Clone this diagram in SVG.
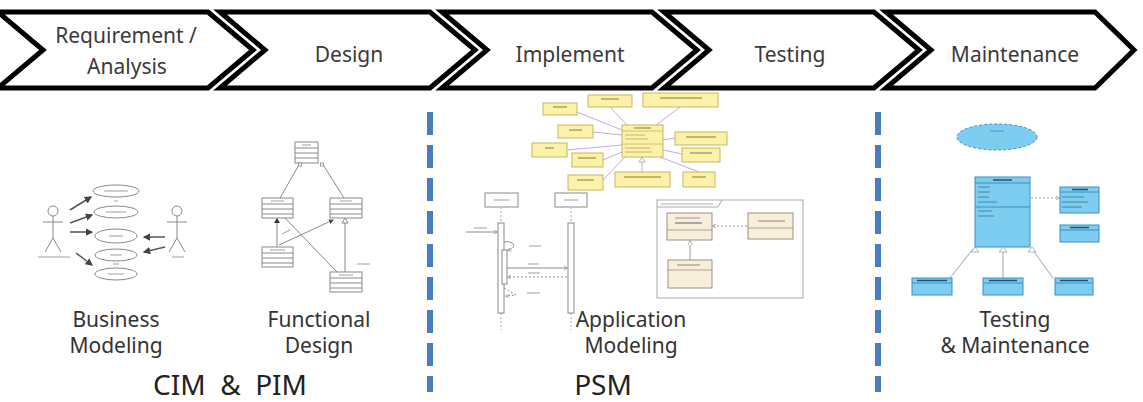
<svg xmlns="http://www.w3.org/2000/svg" width="1143" height="402" viewBox="0 0 1143 402">
<style>
.chev{fill:#fff;stroke:#000;stroke-width:5;stroke-linejoin:miter}
.ct{font-family:"Noto Sans","Open Sans",sans-serif;font-size:21px;fill:#3a3a3a;text-anchor:middle}
.lb{font-family:"Noto Sans","Open Sans",sans-serif;font-size:21px;fill:#333;text-anchor:middle}
.big{font-family:"Noto Sans","Open Sans",sans-serif;font-size:28px;fill:#222;text-anchor:middle}
.sep{stroke:#4a7dbf;stroke-width:6;stroke-dasharray:23 10}
.g{fill:none;stroke:#8a8a8a;stroke-width:1}
.gb{fill:#fff;stroke:#8a8a8a;stroke-width:1}
.dk{fill:none;stroke:#555;stroke-width:1.5}
.tx{stroke:#b0b0b0;stroke-width:1.2}
.yb{fill:#fbf1a8;stroke:#c9b75a;stroke-width:1}
.pl{fill:none;stroke:#c9a8e2;stroke-width:1}
.cb{fill:#f7efd9;stroke:#9a9280;stroke-width:1}
.bb{fill:#7dcdf1;stroke:#3d8fc2;stroke-width:1}
.bl{fill:none;stroke:#9aa4ad;stroke-width:1}
</style>
<defs>
<marker id="ah" viewBox="0 0 6 6" refX="5" refY="3" markerWidth="5" markerHeight="5" orient="auto"><path d="M0,0 L6,3 L0,6 Z" fill="#444"/></marker>
<marker id="ahs" viewBox="0 0 6 6" refX="5" refY="3" markerWidth="4" markerHeight="4" orient="auto"><path d="M0,0 L6,3 L0,6" fill="none" stroke="#888"/></marker>
<marker id="tri" viewBox="0 0 8 8" refX="7" refY="4" markerWidth="5" markerHeight="5" orient="auto"><path d="M0,0 L8,4 L0,8 Z" fill="#fff" stroke="#888"/></marker>
</defs>
<rect width="1143" height="402" fill="#fff"/>

<g id="chevrons">
<g id="chev-requirement"><path class="chev" d="M-2,12 H208 L253,50 L208,88 H-2 L43,50 Z"/><text class="ct" x="126" y="43">Requirement /</text><text class="ct" x="127" y="74">Analysis</text></g>
<g id="chev-design"><path class="chev" d="M220,12 H430 L475,50 L430,88 H220 L265,50 Z"/><text class="ct" x="349" y="62">Design</text></g>
<g id="chev-implement"><path class="chev" d="M442,12 H652 L697,50 L652,88 H442 L487,50 Z"/><text class="ct" x="570" y="62">Implement</text></g>
<g id="chev-testing"><path class="chev" d="M664,12 H874 L919,50 L874,88 H664 L709,50 Z"/><text class="ct" x="790" y="62">Testing</text></g>
<g id="chev-maintenance"><path class="chev" d="M886,12 H1095 L1134,50 L1095,88 H886 L931,50 Z"/><text class="ct" x="1015" y="62">Maintenance</text></g>
</g>

<g id="separators">
<line class="sep" x1="430" y1="112" x2="430" y2="392"/>
<line class="sep" x1="878" y1="112" x2="878" y2="392"/>
</g>

<g id="business-modeling">
<ellipse class="gb" cx="116" cy="191" rx="23" ry="6"/>
<ellipse class="gb" cx="116" cy="212" rx="22" ry="6"/>
<ellipse class="gb" cx="116" cy="236" rx="21" ry="7"/>
<ellipse class="gb" cx="116" cy="255" rx="21" ry="6"/>
<ellipse class="gb" cx="116" cy="274" rx="21" ry="6"/>
<line class="tx" x1="104" y1="191" x2="128" y2="191"/>
<line class="tx" x1="106" y1="212" x2="126" y2="212"/>
<line class="tx" x1="109" y1="236" x2="123" y2="236"/>
<line class="tx" x1="110" y1="255" x2="122" y2="255"/>
<line class="tx" x1="108" y1="274" x2="124" y2="274"/>
<line class="tx" x1="114" y1="201" x2="118" y2="201"/>
<line class="tx" x1="113" y1="264" x2="119" y2="264"/>
<circle class="gb" cx="53" cy="211" r="5"/>
<path class="g" d="M53,216 V238 M43,222 H63 M53,238 L45,252 M53,238 L61,252"/>
<line class="tx" x1="38" y1="257" x2="70" y2="257"/>
<circle class="gb" cx="177" cy="211" r="5"/>
<path class="g" d="M177,216 V238 M167,222 H187 M177,238 L169,252 M177,238 L185,252"/>
<line class="tx" x1="172" y1="257" x2="184" y2="257"/>
<line class="dk" x1="70" y1="210" x2="91" y2="197" marker-end="url(#ah)"/>
<line class="dk" x1="70" y1="223" x2="92" y2="215" marker-end="url(#ah)"/>
<line class="dk" x1="70" y1="232" x2="92" y2="232" marker-end="url(#ah)"/>
<line class="dk" x1="76" y1="253" x2="92" y2="265" marker-end="url(#ah)"/>
<line class="dk" x1="165" y1="237" x2="144" y2="237" marker-end="url(#ah)"/>
<line class="dk" x1="165" y1="247" x2="144" y2="252" marker-end="url(#ah)"/>
<text class="lb" x="116" y="327">Business</text>
<text class="lb" x="116" y="353">Modeling</text>
</g>

<g id="functional-design">
<rect class="gb" x="295" y="142" width="23" height="21"/>
<path class="g" d="M295,148 H318 M295,153 H318 M295,158 H318"/>
<rect class="gb" x="262" y="198" width="31" height="20"/>
<path class="g" d="M262,204 H293 M262,209 H293 M262,214 H293"/>
<rect class="gb" x="330" y="198" width="32" height="20"/>
<path class="g" d="M330,204 H362 M330,209 H362 M330,214 H362"/>
<rect class="gb" x="262" y="247" width="31" height="20"/>
<path class="g" d="M262,253 H293 M262,258 H293 M262,263 H293"/>
<rect class="gb" x="330" y="272" width="32" height="20"/>
<path class="g" d="M330,278 H362 M330,283 H362 M330,288 H362"/>
<path class="g" d="M300,163 L280,198 M322,163 L344,198 M277,247 V222 M285,218 L337,272 M345,272 V222"/>
<path d="M277,218 L274,223 L280,223 Z" fill="#333"/>
<path d="M345,218 L342,223 L348,223 Z" fill="#fff" stroke="#888"/>
<line class="g" x1="279" y1="245" x2="333" y2="220" marker-end="url(#ah)"/>
<rect x="298.5" y="163" width="3" height="3" fill="#fff" stroke="#888" stroke-width="0.8"/>
<rect x="320.5" y="163" width="3" height="3" fill="#fff" stroke="#888" stroke-width="0.8"/>
<line class="tx" x1="271" y1="201" x2="284" y2="201"/>
<line class="tx" x1="340" y1="201" x2="352" y2="201"/>
<line class="tx" x1="270" y1="250" x2="285" y2="250"/>
<line class="tx" x1="339" y1="275" x2="353" y2="275"/>
<line class="tx" x1="302" y1="145" x2="311" y2="145"/>
<line class="tx" x1="357" y1="264" x2="370" y2="264"/>
<line class="tx" x1="282" y1="234" x2="290" y2="230"/>
<text class="lb" x="319" y="327">Functional</text>
<text class="lb" x="319" y="353">Design</text>
</g>

<g id="application-modeling">
<g id="app-class-diagram">
<path class="pl" d="M610,107 L628,126 M680,107 L655,126 M577,112 L622,130 M593,132 L622,135 M675,138 L663,140 M567,150 L622,145 M682,154 L663,150 M603,160 L622,152 M642,172 L642,157 M603,180 L625,157 M699,172 L660,157"/>
<rect class="yb" x="588" y="95" width="44" height="12"/>
<rect class="yb" x="643" y="93" width="75" height="14"/>
<rect class="yb" x="543" y="103" width="34" height="12"/>
<rect class="yb" x="622" y="125" width="41" height="32"/>
<path d="M622,131 H663 M622,144 H663" stroke="#c9b75a" stroke-width="0.8"/>
<rect class="yb" x="558" y="125" width="35" height="13"/>
<rect class="yb" x="675" y="132" width="52" height="13"/>
<rect class="yb" x="532" y="143" width="35" height="14"/>
<rect class="yb" x="682" y="148" width="38" height="14"/>
<rect class="yb" x="572" y="153" width="31" height="14"/>
<rect class="yb" x="615" y="172" width="55" height="15"/>
<rect class="yb" x="568" y="175" width="35" height="15"/>
<rect class="yb" x="683" y="172" width="32" height="15"/>
<path d="M642,157 L639,162 L645,162 Z" fill="#fff" stroke="#999" stroke-width="0.7"/>
<g stroke="#8a7a30" stroke-width="1">
<line x1="601" y1="99" x2="619" y2="99"/><line x1="660" y1="98" x2="702" y2="98"/><line x1="553" y1="107" x2="567" y2="107"/>
<line x1="634" y1="128" x2="651" y2="128"/><line x1="569" y1="130" x2="582" y2="130"/><line x1="686" y1="137" x2="716" y2="137"/>
<line x1="545" y1="148" x2="554" y2="148"/><line x1="690" y1="153" x2="712" y2="153"/><line x1="578" y1="158" x2="596" y2="158"/>
<line x1="624" y1="177" x2="661" y2="177"/><line x1="577" y1="180" x2="594" y2="180"/><line x1="692" y1="177" x2="706" y2="177"/>
</g>
<g stroke="#b8a860" stroke-width="0.8"><line x1="625" y1="135" x2="645" y2="135"/><line x1="625" y1="139" x2="648" y2="139"/><line x1="625" y1="148" x2="650" y2="148"/><line x1="625" y1="152" x2="652" y2="152"/></g>
</g>
<g id="app-sequence">
<rect class="gb" x="485" y="193" width="33" height="14"/>
<rect class="gb" x="555" y="193" width="32" height="14"/>
<line class="tx" x1="494" y1="200" x2="509" y2="200"/>
<line class="tx" x1="564" y1="200" x2="578" y2="200"/>
<path d="M501,207 V223 M501,313 V330 M571,207 V223 M571,313 V330" stroke="#aaa" stroke-width="1" stroke-dasharray="2 2"/>
<rect class="gb" x="498" y="223" width="6" height="90"/>
<rect class="gb" x="502" y="250" width="5" height="34"/>
<rect class="gb" x="568" y="223" width="6" height="90"/>
<line class="g" x1="466" y1="232" x2="497" y2="232" marker-end="url(#ahs)"/>
<line class="tx" x1="474" y1="228" x2="487" y2="228"/>
<path class="g" d="M504,242 C516,240 516,249 508,250" marker-end="url(#ahs)"/>
<line class="tx" x1="529" y1="246" x2="541" y2="246"/>
<line class="g" x1="507" y1="268" x2="567" y2="268" marker-end="url(#ahs)"/>
<line class="tx" x1="528" y1="264" x2="539" y2="264"/>
<line class="g" x1="567" y1="277" x2="508" y2="277" stroke-dasharray="2 2" marker-end="url(#ahs)"/>
<line class="tx" x1="528" y1="273" x2="540" y2="273"/>
<path class="g" d="M504,288 L516,295 L506,296" stroke-dasharray="2 2" marker-end="url(#ahs)"/>
<line class="tx" x1="527" y1="293" x2="540" y2="293"/>
</g>
<g id="app-component">
<rect x="657" y="200" width="146" height="98" fill="#fff" stroke="#aaa" stroke-width="1"/>
<path d="M657,207 H718 L722,200" fill="none" stroke="#aaa" stroke-width="1"/>
<line class="tx" x1="661" y1="204" x2="713" y2="204"/>
<rect class="cb" x="667" y="213" width="45" height="27"/>
<line x1="667" y1="230" x2="712" y2="230" stroke="#9a9280" stroke-width="0.8"/>
<line x1="675" y1="218" x2="700" y2="218" stroke="#999" stroke-width="1"/>
<line x1="675" y1="223" x2="702" y2="223" stroke="#777" stroke-width="1.2"/>
<rect class="cb" x="668" y="260" width="44" height="28"/>
<line x1="668" y1="270" x2="712" y2="270" stroke="#9a9280" stroke-width="0.8"/>
<line x1="677" y1="265" x2="700" y2="265" stroke="#888" stroke-width="1"/>
<rect class="cb" x="748" y="213" width="45" height="26"/>
<line x1="748" y1="228" x2="793" y2="228" stroke="#9a9280" stroke-width="0.8"/>
<line x1="758" y1="221" x2="785" y2="221" stroke="#888" stroke-width="1"/>
<line x1="747" y1="226" x2="713" y2="226" stroke="#999" stroke-width="1" stroke-dasharray="2 2" marker-end="url(#ahs)"/>
<line x1="690" y1="260" x2="690" y2="241" stroke="#999" stroke-width="1" marker-end="url(#tri)"/>
</g>
<text class="lb" x="631" y="327">Application</text>
<text class="lb" x="631" y="353">Modeling</text>
</g>

<g id="testing-maintenance">
<ellipse cx="997" cy="137" rx="40" ry="13" fill="#7dcdf1" stroke="#3d8fc2" stroke-width="1" stroke-dasharray="3 2"/>
<line x1="990" y1="131" x2="1004" y2="131" stroke="#5a7e9a" stroke-width="0.8"/>
<path class="bl" d="M950,278 L973,249 M1003,278 V250 M1053,278 L1032,249"/>
<rect class="bb" x="975" y="177" width="55" height="70"/>
<path d="M975,183 H1030 M975,207 H1030" stroke="#3d8fc2" stroke-width="1"/>
<line x1="993" y1="180" x2="1012" y2="180" stroke="#1d4f70" stroke-width="1.5"/>
<g stroke="#3f6f90" stroke-width="0.8"><line x1="978" y1="187" x2="990" y2="187"/><line x1="978" y1="192" x2="990" y2="192"/><line x1="978" y1="197" x2="989" y2="197"/><line x1="978" y1="202" x2="997" y2="202"/><line x1="978" y1="211" x2="992" y2="211"/><line x1="978" y1="216" x2="994" y2="216"/></g>
<path d="M975,247 L971,252 L979,252 Z M1003,247 L999,252 L1007,252 Z M1032,247 L1028,252 L1036,252 Z" fill="#fff" stroke="#9aa4ad" stroke-width="0.8"/>
<line x1="1031" y1="198" x2="1059" y2="198" stroke="#9aa4ad" stroke-width="1" stroke-dasharray="2 2" marker-end="url(#ahs)"/>
<rect class="bb" x="1060" y="187" width="39" height="26"/>
<line x1="1060" y1="192" x2="1099" y2="192" stroke="#3d8fc2" stroke-width="1"/>
<line x1="1072" y1="189.5" x2="1088" y2="189.5" stroke="#1d4f70" stroke-width="1.5"/>
<g stroke="#3f6f90" stroke-width="0.8"><line x1="1062" y1="197" x2="1084" y2="197"/><line x1="1062" y1="202" x2="1088" y2="202"/><line x1="1062" y1="207" x2="1082" y2="207"/></g>
<rect class="bb" x="1060" y="225" width="39" height="17"/>
<line x1="1060" y1="230" x2="1099" y2="230" stroke="#3d8fc2" stroke-width="1"/>
<line x1="1070" y1="227.5" x2="1089" y2="227.5" stroke="#1d4f70" stroke-width="1.5"/>
<rect class="bb" x="912" y="278" width="40" height="17"/>
<line x1="912" y1="283" x2="952" y2="283" stroke="#3d8fc2" stroke-width="1"/>
<line x1="917" y1="280.5" x2="947" y2="280.5" stroke="#1d4f70" stroke-width="1.5"/>
<rect class="bb" x="983" y="278" width="40" height="17"/>
<line x1="983" y1="283" x2="1023" y2="283" stroke="#3d8fc2" stroke-width="1"/>
<line x1="989" y1="280.5" x2="1017" y2="280.5" stroke="#1d4f70" stroke-width="1.5"/>
<rect class="bb" x="1055" y="278" width="38" height="17"/>
<line x1="1055" y1="283" x2="1093" y2="283" stroke="#3d8fc2" stroke-width="1"/>
<line x1="1060" y1="280.5" x2="1088" y2="280.5" stroke="#1d4f70" stroke-width="1.5"/>
<text class="lb" x="1015" y="327">Testing</text>
<text class="lb" x="1015" y="353">&amp; Maintenance</text>
</g>

<g id="phase-labels">
<text class="big" x="230" y="395" xml:space="preserve">CIM  &amp;  PIM</text>
<text class="big" x="603" y="395">PSM</text>
</g>
</svg>
